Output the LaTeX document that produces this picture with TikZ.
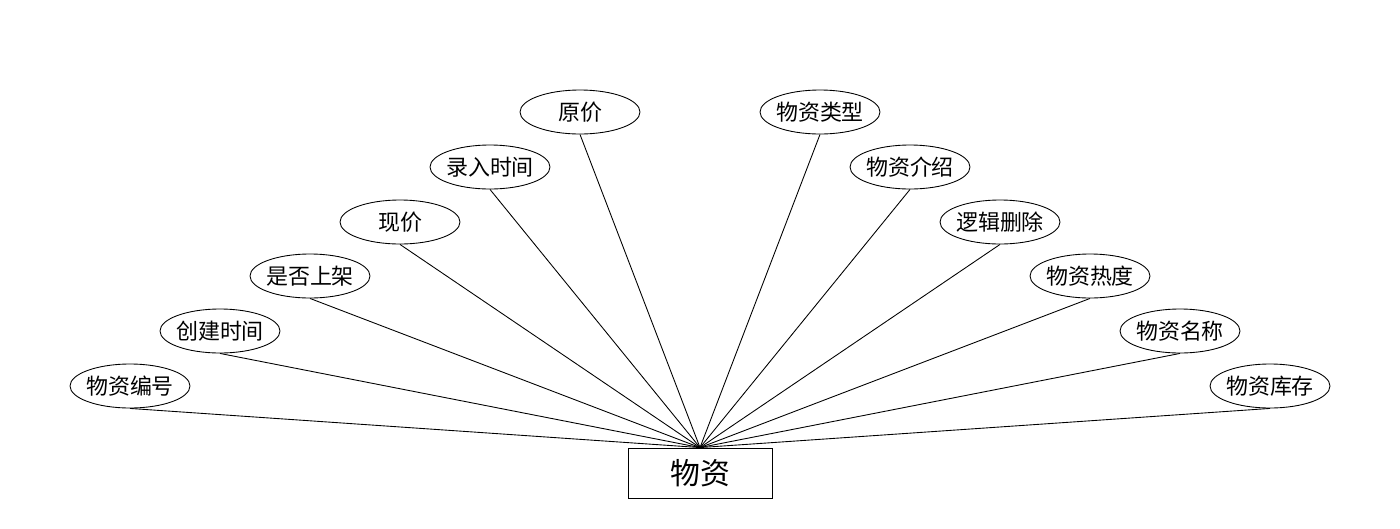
\documentclass[tikz,border=0pt]{standalone}
\usepackage{fontspec}
\setmainfont{Noto Sans CJK SC}
\usetikzlibrary{shapes.geometric}

\tikzset{
  attr/.style={draw, ellipse, minimum width=2.4cm, minimum height=0.88cm, inner xsep=-4pt, inner ysep=0pt, font=\fontsize{12.5}{14}\selectfont},
  entity/.style={draw, rectangle, minimum width=2.88cm, minimum height=1.0cm, inner sep=0pt, font=\fontsize{17}{20}\selectfont}
}

\begin{document}
\begin{tikzpicture}[x=0.02cm, y=-0.02cm, line width=0.5pt]
        \useasboundingbox (0,0) rectangle (1400,528);
        \node[entity] (WZ) at (700,473) {物资};

        \node[attr] (BH) at (130,386) {物资编号};
        \node[attr] (CJ) at (220,331) {创建时间};
        \node[attr] (SJ) at (310,276) {是否上架};
        \node[attr] (XJ) at (400,222) {现价};
        \node[attr] (LR) at (490,167) {录入时间};
        \node[attr] (YJ) at (580,112) {原价};

        \node[attr] (LX) at (820,112) {物资类型};
        \node[attr] (JS) at (910,167) {物资介绍};
        \node[attr] (SC) at (1000,222) {逻辑删除};
        \node[attr] (RD) at (1090,276) {物资热度};
        \node[attr] (MC) at (1180,331) {物资名称};
        \node[attr] (KC) at (1270,386) {物资库存};

        \draw (BH.south) -- (WZ.north);
        \draw (CJ.south) -- (WZ.north);
        \draw (SJ.south) -- (WZ.north);
        \draw (XJ.south) -- (WZ.north);
        \draw (LR.south) -- (WZ.north);
        \draw (YJ.south) -- (WZ.north);
        \draw (LX.south) -- (WZ.north);
        \draw (JS.south) -- (WZ.north);
        \draw (SC.south) -- (WZ.north);
        \draw (RD.south) -- (WZ.north);
        \draw (MC.south) -- (WZ.north);
        \draw (KC.south) -- (WZ.north);
    \end{tikzpicture}
\end{document}
